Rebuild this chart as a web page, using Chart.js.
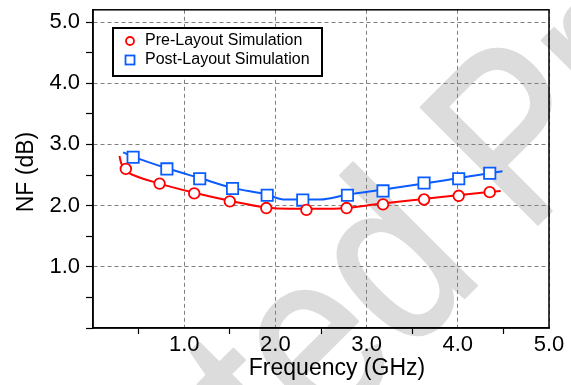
<!DOCTYPE html>
<html>
<head>
<meta charset="utf-8">
<script src="https://cdn.jsdelivr.net/npm/chart.js@4.4.1/dist/chart.umd.min.js"></script>
<style>
  html, body { margin: 0; padding: 0; background: #fff; }
  #wrap { width: 571px; height: 385px; }
</style>
</head>
<body>
<div id="wrap"><canvas id="nfChart" width="571" height="385"></canvas></div>
<script>
// simulated points (GHz, dB)
var freqPre = [0.36, 0.73, 1.11, 1.50, 1.90, 2.34, 2.78, 3.18, 3.63, 4.01, 4.35];
var nfPre = [2.60, 2.36, 2.20, 2.07, 1.96, 1.93, 1.96, 2.02, 2.10, 2.16, 2.22];
var freqPost = [0.44, 0.81, 1.17, 1.53, 1.91, 2.30, 2.79, 3.18, 3.63, 4.01, 4.35];
var nfPost = [2.79, 2.60, 2.44, 2.28, 2.17, 2.09, 2.17, 2.24, 2.37, 2.44, 2.53];

// smooth fitted curves
var curveFreqPre = [0.29, 0.31, 0.37, 0.44, 0.73, 1.11, 1.50, 1.90, 2.16, 2.64, 3.15, 3.63, 4.00, 4.47];
var curveNfPre = [2.81, 2.69, 2.56, 2.50, 2.36, 2.21, 2.08, 1.97, 1.95, 1.95, 2.03, 2.11, 2.17, 2.24];
var curveFreqPost = [0.33, 0.44, 0.81, 1.17, 1.53, 1.91, 2.09, 2.49, 2.79, 3.17, 3.63, 4.01, 4.49];
var curveNfPost = [2.87, 2.80, 2.61, 2.45, 2.29, 2.18, 2.10, 2.10, 2.18, 2.26, 2.36, 2.45, 2.56];

var xTickLabels = [1, 2, 3, 4, 5];
var yTickLabels = [1, 2, 3, 4, 5];

var RED = "#ff0000";
var BLUE = "#0a5cff";
var FONT = "'Liberation Sans', Arial, sans-serif";

function toPoints(xs, ys) {
  return xs.map(function (x, i) { return { x: x, y: ys[i] }; });
}

function isWhole(v) {
  return Math.abs(v - Math.round(v)) < 1e-6;
}

// white page plus the grey proof stamp behind everything
var background = {
  id: "background",
  beforeDraw: function (chart) {
    var ctx = chart.ctx;
    ctx.save();
    ctx.fillStyle = "#fff";
    ctx.fillRect(0, 0, chart.width, chart.height);
    ctx.font = "240px " + FONT;
    ctx.fillStyle = "#dcdcdc";
    ctx.strokeStyle = "#dcdcdc";
    ctx.lineWidth = 3;
    ctx.lineJoin = "round";
    ctx.translate(526, 236);
    ctx.rotate(-Math.PI / 4);
    ctx.scale(0.85, 1);
    ctx.textBaseline = "alphabetic";
    var stamp = "Uncorrected Proof";
    var x0 = -ctx.measureText("Uncorrected ").width;
    ctx.fillText(stamp, x0, 0);
    ctx.strokeText(stamp, x0, 0);
    ctx.restore();
  }
};

// closed frame, axis titles and the boxed legend
var decorations = {
  id: "decorations",
  afterDraw: function (chart) {
    var ctx = chart.ctx;
    var a = chart.chartArea;
    ctx.save();
    ctx.strokeStyle = "#000";
    ctx.lineWidth = 1.5;
    ctx.strokeRect(a.left, a.top, a.right - a.left, a.bottom - a.top);

    ctx.fillStyle = "#000";
    ctx.font = "23px " + FONT;
    ctx.textAlign = "center";
    ctx.textBaseline = "middle";
    ctx.fillText("Frequency (GHz)", 337, 369);
    ctx.save();
    ctx.translate(27, 172);
    ctx.rotate(-Math.PI / 2);
    ctx.fillText("NF (dB)", 0, 0);
    ctx.restore();

    // legend box
    var bx = 113, by = 28, bw = 209, bh = 48;
    ctx.fillStyle = "#fff";
    ctx.fillRect(bx, by, bw, bh);
    ctx.lineWidth = 2;
    ctx.strokeRect(bx, by, bw, bh);

    ctx.lineWidth = 1.8;
    ctx.strokeStyle = RED;
    ctx.beginPath();
    ctx.arc(130, 41, 4, 0, Math.PI * 2);
    ctx.stroke();
    ctx.strokeStyle = BLUE;
    ctx.strokeRect(125.5, 55.5, 9, 9);

    ctx.fillStyle = "#000";
    ctx.font = "16px " + FONT;
    ctx.textAlign = "left";
    ctx.fillText(chart.data.datasets[0].label, 145, 41);
    ctx.fillText(chart.data.datasets[1].label, 145, 60);
    ctx.restore();
  }
};

new Chart("nfChart", {
  type: "scatter",
  data: {
    datasets: [{
      label: "Pre-Layout Simulation",
      data: toPoints(freqPre, nfPre),
      showLine: false,
      pointStyle: "circle",
      pointRadius: 5.3,
      pointBorderWidth: 1.8,
      borderColor: RED,
      pointBackgroundColor: "#fff"
    }, {
      label: "Post-Layout Simulation",
      data: toPoints(freqPost, nfPost),
      showLine: false,
      pointStyle: "rect",
      pointRadius: 8,
      pointBorderWidth: 1.8,
      borderColor: BLUE,
      pointBackgroundColor: "#fff"
    }, {
      label: "Pre-Layout fit",
      data: toPoints(curveFreqPre, curveNfPre),
      showLine: true,
      pointRadius: 0,
      borderWidth: 2,
      borderColor: RED,
      cubicInterpolationMode: "monotone"
    }, {
      label: "Post-Layout fit",
      data: toPoints(curveFreqPost, curveNfPost),
      showLine: true,
      pointRadius: 0,
      borderWidth: 2,
      borderColor: BLUE,
      cubicInterpolationMode: "monotone"
    }]
  },
  plugins: [background, decorations],
  options: {
    responsive: false,
    animation: false,
    layout: { padding: { left: 0, top: 8, right: 22, bottom: 0 } },
    plugins: {
      legend: { display: false },
      tooltip: { enabled: false }
    },
    scales: {
      x: {
        type: "linear",
        min: 0,
        max: 5,
        afterFit: function (s) { s.height = 57; s.paddingLeft = 0; s.paddingRight = 0; },
        ticks: {
          stepSize: 0.5,
          autoSkip: false,
          includeBounds: false,
          maxRotation: 0,
          padding: 0,
          color: "#000",
          font: { family: FONT, size: 22, lineHeight: 1 },
          callback: function (v) {
            return (isWhole(v) && xTickLabels.indexOf(Math.round(v)) >= 0) ? v.toFixed(1) : "";
          }
        },
        grid: {
          color: function (c) {
            var v = c.tick ? c.tick.value : 0;
            return (isWhole(v) && v > 0) ? "#808080" : "rgba(0,0,0,0)";
          },
          lineWidth: 1,
          tickLength: 6,
          tickWidth: 1.2,
          tickColor: function (c) {
            var v = c.tick ? c.tick.value : 0;
            return isWhole(v) ? "rgba(0,0,0,0)" : "#000";
          }
        },
        border: { color: "#000", width: 1.5, dash: [4, 3] }
      },
      y: {
        type: "linear",
        min: 0,
        max: 5.2,
        afterFit: function (s) { s.width = 93; s.paddingTop = 0; s.paddingBottom = 0; },
        ticks: {
          stepSize: 0.5,
          autoSkip: false,
          includeBounds: false,
          padding: 6,
          color: "#000",
          font: { family: FONT, size: 22, lineHeight: 1 },
          callback: function (v) {
            return (isWhole(v) && yTickLabels.indexOf(Math.round(v)) >= 0) ? v.toFixed(1) : "";
          }
        },
        grid: {
          color: function (c) {
            var v = c.tick ? c.tick.value : 0;
            return (isWhole(v) && v > 0) ? "#808080" : "rgba(0,0,0,0)";
          },
          lineWidth: 1,
          tickLength: 7,
          tickWidth: 1.2,
          tickColor: "#000"
        },
        border: { color: "#000", width: 1.5, dash: [4, 3] }
      }
    }
  }
});
</script>
</body>
</html>
